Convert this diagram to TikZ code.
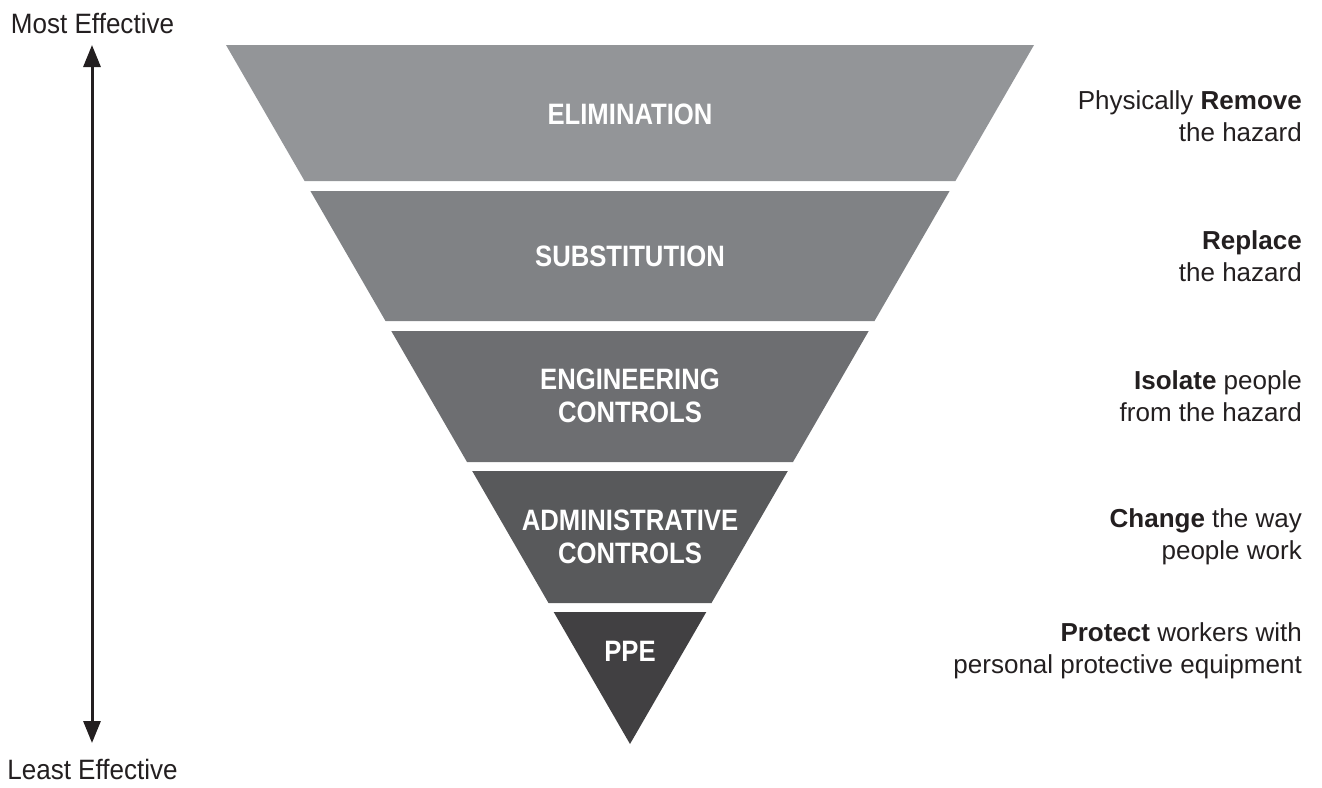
\documentclass[tikz,border=0pt]{standalone}
\usepackage{fontspec}
\setmainfont{Liberation Sans}
\newfontfamily\bandfont{Liberation Sans}[FakeStretch=0.87]
\newfontfamily\endfont{Liberation Sans}[FakeStretch=0.93]
\usetikzlibrary{arrows.meta}
\definecolor{celim}{HTML}{939598}
\definecolor{csubst}{HTML}{808285}
\definecolor{ceng}{HTML}{6D6E71}
\definecolor{cadm}{HTML}{58595B}
\definecolor{cppe}{HTML}{414042}
\definecolor{ink}{HTML}{231F20}
\tikzset{
  band/.style={draw=none},
  bandlabel/.style={text=white, font=\bandfont\fontsize{29.5}{33}\selectfont\bfseries, align=center, inner sep=0pt},
  sidelabel/.style={text=ink, font=\fontsize{26}{32}\selectfont, align=right, anchor=east, inner sep=0pt},
  endlabel/.style={text=ink, font=\endfont\fontsize{28}{32}\selectfont, inner sep=0pt},
  effarrow/.style={line width=3pt, draw=ink, {Triangle[length=22pt,width=17pt]}-{Triangle[length=22pt,width=17pt]}}
}
\begin{document}
\begin{tikzpicture}[x=1pt,y=-1pt]
\useasboundingbox (0,0) rectangle (1322,787);
% bands
\fill[celim, band]  (226,45) -- (1034,45) -- (955.4,181) -- (304.6,181) -- cycle;
\fill[csubst, band] (310.4,191) -- (949.6,191) -- (874.5,321) -- (385.5,321) -- cycle;
\fill[ceng, band]   (391.3,331) -- (868.7,331) -- (793,462) -- (467,462) -- cycle;
\fill[cadm, band]   (472.2,471) -- (787.8,471) -- (711.5,603) -- (548.5,603) -- cycle;
\fill[cppe, band]   (553.7,612) -- (706.3,612) -- (630,744) -- cycle;
% band labels
\node[bandlabel] (elim) at (630,114) {ELIMINATION};
\node[bandlabel] (subst) at (630,256) {SUBSTITUTION};
\node[bandlabel] (eng) at (630,396) {ENGINEERING\\CONTROLS};
\node[bandlabel] (adm) at (630,537) {ADMINISTRATIVE\\CONTROLS};
\node[bandlabel] (ppe) at (630,651) {PPE};
% side labels
\node[sidelabel] (d1) at (1302,116) {Physically \textbf{Remove}\\the hazard};
\node[sidelabel] (d2) at (1302,256) {\textbf{Replace}\\the hazard};
\node[sidelabel] (d3) at (1302,396) {\textbf{Isolate} people\\from the hazard};
\node[sidelabel] (d4) at (1302,537) {\textbf{Change} the way\\people work};
\node[sidelabel] (d5) at (1302,651) {\textbf{Protect} workers with\\personal protective equipment};
% effectiveness arrow
\node[endlabel] (most) at (92.5,23) {Most Effective};
\node[endlabel] (least) at (92.5,769) {Least Effective};
\coordinate (atop) at (92,45);
\coordinate (abot) at (92,743);
\draw[effarrow] (atop) -- (abot);
\end{tikzpicture}
\end{document}
